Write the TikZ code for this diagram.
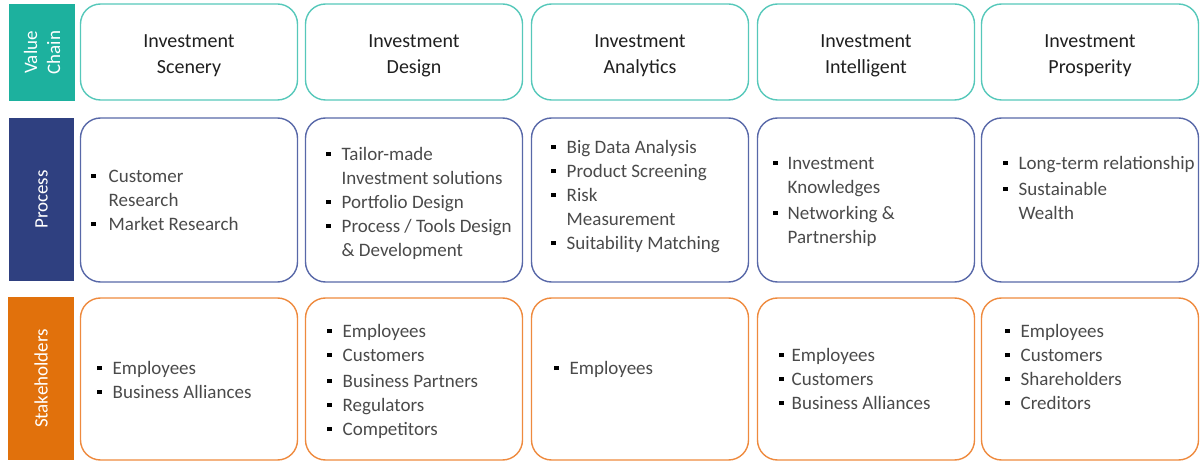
\documentclass[tikz,border=0pt]{standalone}
\usepackage{fontspec}
\setmainfont{Carlito}
\usepackage{xcolor}
\usepackage{array}

\definecolor{vcfill}{RGB}{29,177,158}
\definecolor{vcline}{RGB}{86,200,186}
\definecolor{prfill}{RGB}{47,64,128}
\definecolor{prline}{RGB}{88,104,168}
\definecolor{shfill}{RGB}{225,113,12}
\definecolor{shline}{RGB}{238,138,62}
\definecolor{itemgray}{RGB}{74,74,74}

\newcommand{\bul}{{\color{black}\rule[0.24em]{4.5pt}{4.5pt}}}

\begin{document}
\begin{tikzpicture}[x=1pt,y=-1pt,
	sidebar/.style={rotate=90, inner sep=0, text=white, align=center,
		font=\fontsize{19}{23}\selectfont},
	cellbox/.style={draw, line width=1.4pt, rounded corners=20pt,
		minimum width=217, inner sep=0},
	titletext/.style={align=center, text=black!88, inner sep=0,
		font=\fontsize{20}{26}\selectfont},
	itemlist/.style={anchor=west, inner sep=0, text=itemgray,
		font=\fontsize{19}{24}\selectfont}]
	
	\useasboundingbox (0,0) rectangle (1200,462);
	
	% row labels
	\node[sidebar, fill=vcfill, minimum width=97, minimum height=66] (lvc) at (42,52.5) {Value\\Chain};
	\node[sidebar, fill=prfill, minimum width=163, minimum height=65] (lpr) at (41.5,199.5) {Process};
	\node[sidebar, fill=shfill, minimum width=163, minimum height=66] (lsh) at (41,378.5) {Stakeholders};
	
	% value chain
	\node[cellbox, draw=vcline, minimum height=96] (vc1) at (189,52) {};
	\node[cellbox, draw=vcline, minimum height=96] (vc2) at (414,52) {};
	\node[cellbox, draw=vcline, minimum height=96] (vc3) at (640,52) {};
	\node[cellbox, draw=vcline, minimum height=96] (vc4) at (866,52) {};
	\node[cellbox, draw=vcline, minimum height=96] (vc5) at (1090,52) {};
	
	\node[titletext] (vt1) at ([yshift=-3.5pt]vc1.center) {Investment\\Scenery};
	\node[titletext] (vt2) at ([yshift=-3.5pt]vc2.center) {Investment\\Design};
	\node[titletext] (vt3) at ([yshift=-3.5pt]vc3.center) {Investment\\Analytics};
	\node[titletext] (vt4) at ([yshift=-3.5pt]vc4.center) {Investment\\Intelligent};
	\node[titletext] (vt5) at ([yshift=-3.5pt]vc5.center) {Investment\\Prosperity};
	
	% process
	\node[cellbox, draw=prline, minimum height=164] (pr1) at (189,200) {};
	\node[cellbox, draw=prline, minimum height=164] (pr2) at (414,200) {};
	\node[cellbox, draw=prline, minimum height=164] (pr3) at (640,200) {};
	\node[cellbox, draw=prline, minimum height=164] (pr4) at (866,200) {};
	\node[cellbox, draw=prline, minimum height=164] (pr5) at (1090,200) {};
	
	\node[itemlist] (prl1) at (91,202) {\begin{tabular}{@{}l@{\hspace{13pt}}l@{}}
		\bul & Customer\\ & Research\\ \bul & Market Research\end{tabular}};
	\node[itemlist] (prl2) at (326,204) {\begin{tabular}{@{}l@{\hspace{11pt}}l@{}}
		\bul & Tailor-made\\ & Investment solutions\\ \bul & Portfolio Design\\
		\bul & Process / Tools Design\\ & \& Development\end{tabular}};
	\node[itemlist] (prl3) at (551,197) {\begin{tabular}{@{}l@{\hspace{11pt}}l@{}}
		\bul & Big Data Analysis\\ \bul & Product Screening\\ \bul & Risk\\
		& Measurement\\ \bul & Suitability Matching\end{tabular}};
	\node[itemlist] (prl4) at (773,202) {\begin{tabular}{@{}l@{\hspace{10pt}}l@{}}
		\bul & Investment\\ & Knowledges\\[2pt] \bul & Networking \&\\ & Partnership\end{tabular}};
	\node[itemlist] (prl5) at (1003,190) {\begin{tabular}{@{}l@{\hspace{11pt}}l@{}}
		\bul & Long-term relationship\\[2pt] \bul & Sustainable\\ & Wealth\end{tabular}};
	
	% stakeholders
	\node[cellbox, draw=shline, minimum height=162] (sh1) at (189,379) {};
	\node[cellbox, draw=shline, minimum height=162] (sh2) at (414,379) {};
	\node[cellbox, draw=shline, minimum height=162] (sh3) at (640,379) {};
	\node[cellbox, draw=shline, minimum height=162] (sh4) at (866,379) {};
	\node[cellbox, draw=shline, minimum height=162] (sh5) at (1090,379) {};
	
	\node[itemlist] (shl1) at (97,382) {\begin{tabular}{@{}l@{\hspace{11pt}}l@{}}
		\bul & Employees\\ \bul & Business Alliances\end{tabular}};
	\node[itemlist] (shl2) at (327,382) {\begin{tabular}{@{}l@{\hspace{11pt}}l@{}}
		\bul & Employees\\ \bul & Customers\\[2pt] \bul & Business Partners\\
		\bul & Regulators\\ \bul & Competitors\end{tabular}};
	\node[itemlist] (shl3) at (554,370) {\begin{tabular}{@{}l@{\hspace{11pt}}l@{}}
		\bul & Employees\end{tabular}};
	\node[itemlist] (shl4) at (779,381) {\begin{tabular}{@{}l@{\hspace{8pt}}l@{}}
		\bul & Employees\\ \bul & Customers\\ \bul & Business Alliances\end{tabular}};
	\node[itemlist] (shl5) at (1005,369) {\begin{tabular}{@{}l@{\hspace{11pt}}l@{}}
		\bul & Employees\\ \bul & Customers\\ \bul & Shareholders\\ \bul & Creditors\end{tabular}};
	 
\end{tikzpicture}
\end{document}
